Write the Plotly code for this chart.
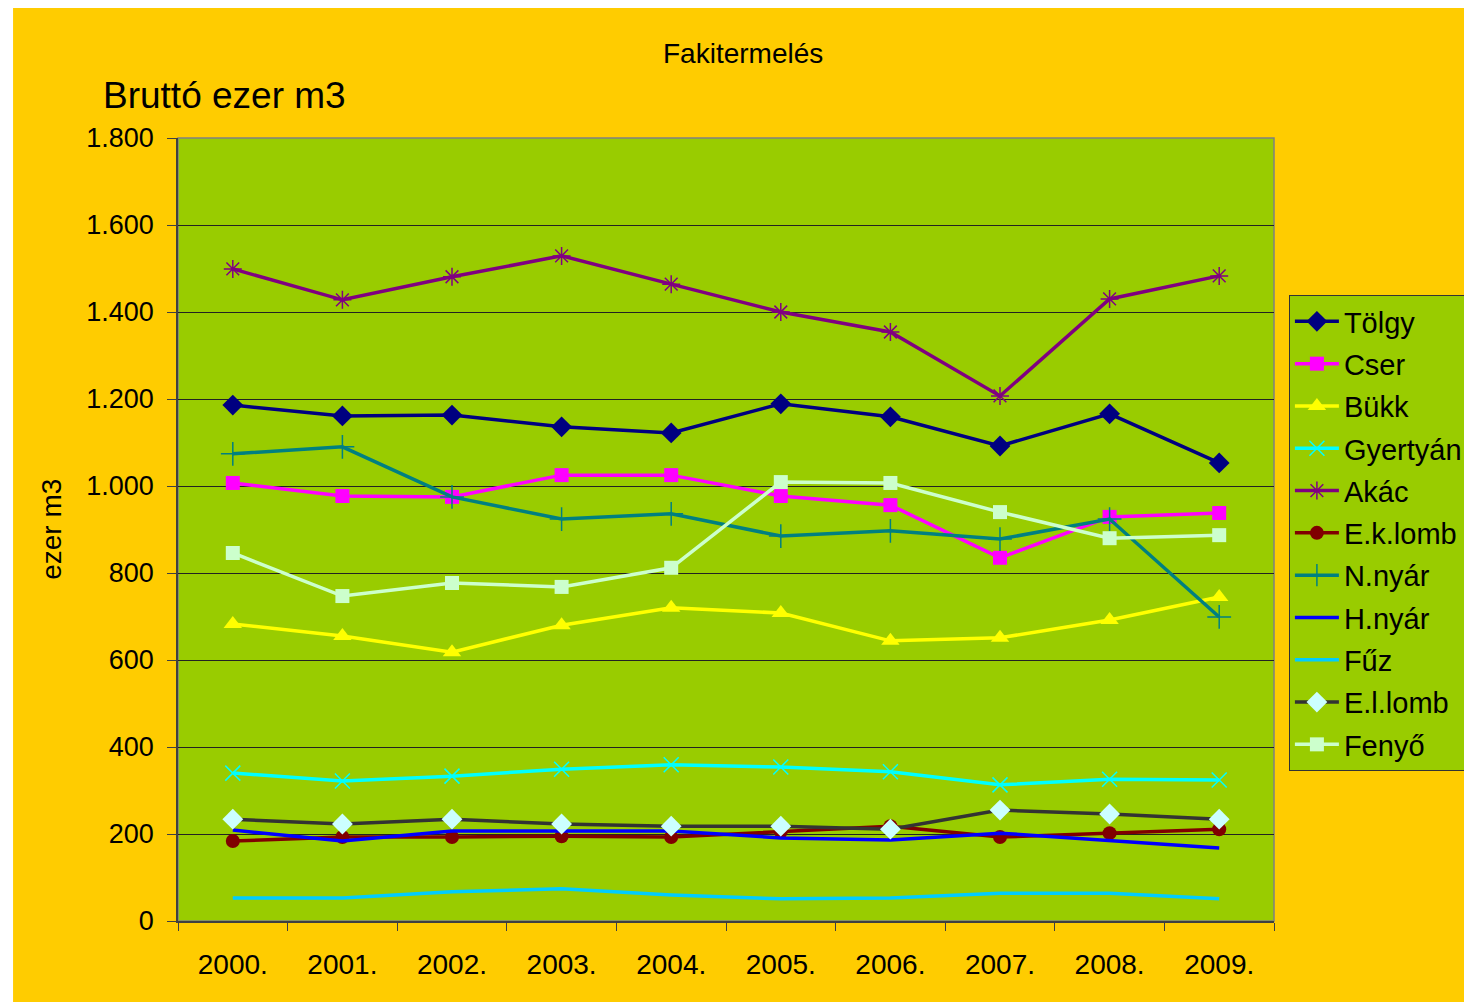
import plotly.graph_objects as go

years = ["2000.", "2001.", "2002.", "2003.", "2004.", "2005.", "2006.", "2007.", "2008.", "2009."]

tolgy = [1186, 1161, 1163, 1136, 1122, 1189, 1159, 1092, 1166, 1053]
cser = [1007, 977, 975, 1025, 1025, 977, 956, 835, 929, 938]
bukk = [683, 655, 618, 680, 720, 708, 644, 651, 692, 745]
gyertyan = [340, 322, 333, 349, 359, 354, 343, 313, 326, 324]
akac = [1499, 1428, 1481, 1529, 1464, 1400, 1354, 1207, 1430, 1483]
ek_lomb = [184, 193, 193, 195, 193, 205, 218, 193, 202, 211]
n_nyar = [1074, 1090, 975, 924, 936, 885, 897, 878, 924, 699]
h_nyar = [209, 184, 207, 207, 207, 191, 186, 202, 184, 168]
fuz = [53, 53, 67, 74, 60, 51, 53, 64, 64, 51]
el_lomb = [234, 223, 234, 223, 218, 218, 211, 255, 246, 234]
fenyo = [846, 747, 777, 768, 812, 1009, 1007, 940, 880, 887]

series = [
    ("Tölgy", tolgy, "#000080", dict(symbol="diamond", size=16, color="#000080")),
    ("Cser", cser, "#FF00FF", dict(symbol="square", size=14, color="#FF00FF")),
    ("Bükk", bukk, "#FFFF00", dict(symbol="triangle-up", size=16, color="#FFFF00")),
    ("Gyertyán", gyertyan, "#00FFFF", dict(symbol="x-thin-open", size=15, color="#00FFFF", line=dict(width=1.5, color="#00FFFF"))),
    ("Akác", akac, "#800080", dict(symbol="asterisk-open", size=15, color="#800080", line=dict(width=1.5, color="#800080"))),
    ("E.k.lomb", ek_lomb, "#800000", dict(symbol="circle", size=14, color="#800000")),
    ("N.nyár", n_nyar, "#008080", dict(symbol="cross-thin-open", size=17, color="#008080", line=dict(width=1.5, color="#008080"))),
    ("H.nyár", h_nyar, "#0000FF", None),
    ("Fűz", fuz, "#00CCFF", None),
    ("E.l.lomb", el_lomb, "#333333", dict(symbol="diamond", size=16, color="#CCFFFF")),
    ("Fenyő", fenyo, "#CCFFCC", dict(symbol="square", size=14, color="#CCFFCC")),
]

fig = go.Figure()
for name, vals, col, mk in series:
    if mk is None:
        fig.add_trace(go.Scatter(x=years, y=vals, name=name, mode="lines",
                                 line=dict(color=col, width=3.5), legendgroup=name))
    else:
        fig.add_trace(go.Scatter(x=years, y=vals, name=name, mode="lines+markers",
                                 line=dict(color=col, width=3.5), marker=mk, legendgroup=name))

# screen-pixel layout of the plot area (page body margin of 8px shifts the figure)
OFF = 8
W, H = 1472, 1002
SL, SR, ST, SB = 178, 1281, 138, 921
def px(x):
    return (x - SL) / (SR - SL)
def py(y):
    return (SB - y) / (SB - ST)

font = "Liberation Sans, Arial, sans-serif"

fig.update_layout(
    width=W, height=H,
    margin=dict(l=SL - OFF, r=W - SR, t=ST - OFF, b=H - (SB - OFF), pad=0),
    paper_bgcolor="#FFCC00",
    plot_bgcolor="#99CC00",
    separators=",.",
    font=dict(family=font, size=27, color="black"),
    showlegend=True,
    legend=dict(
        x=px(1296), y=py(295), xanchor="left", yanchor="top",
        bgcolor="#99CC00", bordercolor="#333333", borderwidth=1,
        font=dict(size=29, family=font, color="black"),
        tracegroupgap=1.6, itemwidth=44,
    ),
    xaxis=dict(
        type="category", range=[-0.5, 9.5], showgrid=False, showline=True,
        linecolor="#404040", linewidth=1.5,
        ticks="outside", tickson="boundaries", ticklen=8, tickcolor="#404040",
        tickfont=dict(size=28), zeroline=False, ticklabelstandoff=18,
    ),
    yaxis=dict(
        range=[0, 1800], dtick=200, tickformat=",d", showgrid=True, gridcolor="#222222",
        gridwidth=1, showline=True, linecolor="#404040", linewidth=1.5,
        ticks="outside", ticklen=9, tickcolor="#404040", tickfont=dict(size=27),
        zeroline=False, ticklabelstandoff=8,
    ),
    shapes=[
        dict(type="rect", xref="paper", yref="paper", x0=0, x1=1, y0=0, y1=1,
             line=dict(color="#808080", width=1.5), fillcolor="rgba(0,0,0,0)", layer="below"),
        dict(type="rect", xref="paper", yref="paper", x0=px(0), x1=px(12), y0=py(0), y1=py(H + 20),
             line=dict(width=0), fillcolor="white", layer="above"),
    ],
    annotations=[
        dict(text="Fakitermelés", xref="paper", yref="paper", x=px(747), y=py(54),
             xanchor="center", yanchor="middle", showarrow=False, font=dict(size=28)),
        dict(text="Bruttó ezer m3", xref="paper", yref="paper", x=px(101), y=py(95),
             xanchor="left", yanchor="middle", showarrow=False, font=dict(size=37)),
        dict(text="ezer m3", xref="paper", yref="paper", x=px(50), y=py(529),
             xanchor="center", yanchor="middle", showarrow=False, textangle=-90, font=dict(size=28)),
    ],
)

fig.write_html("out.html", config={"displayModeBar": False})
